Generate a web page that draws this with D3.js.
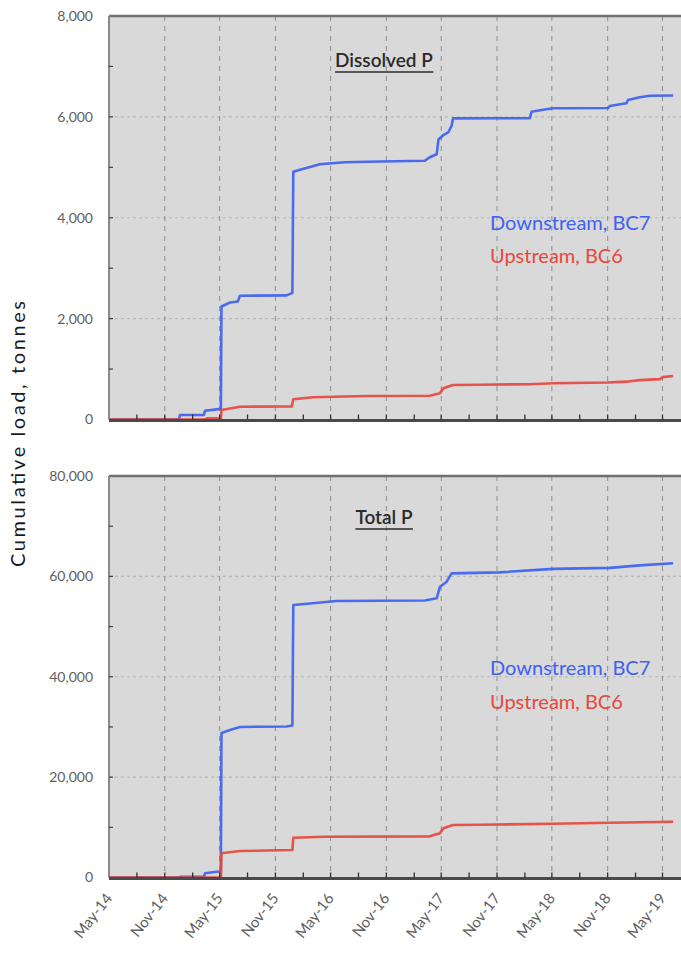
<!DOCTYPE html>
<html>
<head>
<meta charset="utf-8">
<script src="https://cdn.jsdelivr.net/npm/d3@7/dist/d3.min.js"></script>
<style>
  html, body { margin: 0; padding: 0; background: #fff; }
  svg { display: block; }
  text { font-family: Lato, "Open Sans", sans-serif; }
</style>
</head>
<body>
<svg id="chart" width="681" height="953"></svg>
<script>
// Cumulative loads (tonnes), [date, value] pairs
const dissolvedBC7 = [
  ["2014-05-01", 0], ["2014-12-18", 0], ["2014-12-21", 90], ["2015-03-10", 90],
  ["2015-03-14", 175], ["2015-04-21", 200], ["2015-05-05", 210], ["2015-05-07", 2240],
  ["2015-06-04", 2320], ["2015-06-30", 2340], ["2015-07-07", 2455], ["2015-12-08", 2460],
  ["2015-12-27", 2510], ["2015-12-30", 4910], ["2016-01-21", 4950], ["2016-03-03", 5020],
  ["2016-03-26", 5060], ["2016-06-17", 5100], ["2016-08-28", 5110], ["2017-03-08", 5130],
  ["2017-03-24", 5200], ["2017-04-16", 5260], ["2017-04-22", 5550], ["2017-05-08", 5640],
  ["2017-05-25", 5700], ["2017-06-04", 5820], ["2017-06-09", 5970], ["2018-02-17", 5975],
  ["2018-02-23", 6100], ["2018-04-02", 6140], ["2018-05-05", 6170], ["2018-11-02", 6175],
  ["2018-11-08", 6215], ["2019-01-02", 6270], ["2019-01-07", 6335], ["2019-02-15", 6390],
  ["2019-03-20", 6420], ["2019-06-05", 6425]
];
const dissolvedBC6 = [
  ["2014-05-01", 0], ["2015-03-14", 0], ["2015-03-20", 25], ["2015-05-05", 25],
  ["2015-05-07", 188], ["2015-07-07", 254], ["2015-12-25", 258], ["2015-12-30", 400],
  ["2016-03-03", 440], ["2016-08-28", 466], ["2017-03-24", 470], ["2017-04-27", 519],
  ["2017-05-08", 618], ["2017-06-09", 684], ["2017-09-05", 690], ["2018-02-17", 700],
  ["2018-05-05", 720], ["2018-11-02", 735], ["2019-01-02", 750], ["2019-02-15", 780],
  ["2019-04-22", 800], ["2019-05-02", 840], ["2019-06-05", 862]
];
const totalBC7 = [
  ["2014-05-01", 0], ["2014-12-18", 0], ["2014-12-21", 160], ["2015-03-10", 160],
  ["2015-03-14", 840], ["2015-04-21", 1150], ["2015-05-05", 1200], ["2015-05-07", 28800],
  ["2015-06-04", 29400], ["2015-07-07", 30000], ["2015-12-08", 30100], ["2015-12-27", 30300],
  ["2015-12-30", 54300], ["2016-03-03", 54630], ["2016-05-20", 55090], ["2017-03-08", 55200],
  ["2017-04-16", 55630], ["2017-04-27", 57940], ["2017-05-19", 58940], ["2017-06-04", 60600],
  ["2017-11-10", 60800], ["2018-05-05", 61500], ["2018-11-08", 61700], ["2019-02-15", 62200],
  ["2019-06-05", 62600]
];
const totalBC6 = [
  ["2014-05-01", 0], ["2015-05-05", 0], ["2015-05-07", 4820], ["2015-07-07", 5280],
  ["2015-12-27", 5480], ["2015-12-30", 7930], ["2016-04-10", 8130], ["2017-03-24", 8200],
  ["2017-04-27", 8800], ["2017-05-08", 9800], ["2017-06-09", 10460], ["2017-09-05", 10500],
  ["2018-05-05", 10700], ["2018-11-08", 10900], ["2019-06-05", 11100]
];

const dissolvedTicks = [0, 2000, 4000, 6000, 8000];
const totalTicks = [0, 20000, 40000, 60000, 80000];
const panelTitles = ["Dissolved P", "Total P"];
const seriesNames = ["Downstream, BC7", "Upstream, BC6"];
const xStart = "2014-05-01", xEnd = "2019-07-01";

const parse = d3.timeParse("%Y-%m-%d");
const svg = d3.select("#chart");
const blue = "#3d62f0", red = "#e6483e";
const axisGrey = "#5e5e5e";

const x = d3.scaleTime().domain([parse(xStart), parse(xEnd)]).range([109, 681]);
// labels and grid every 6 months from May-14, small ticks every 3 months
const labelDates = d3.timeMonth.range(parse("2014-05-01"), parse("2019-06-01"), 6);
const tickDates = d3.timeMonth.range(parse("2014-05-01"), parse("2019-07-01"), 3);

const panels = [
  { top: 16, bottom: 419.5, max: 8000, ticks: dissolvedTicks, minor: 1000,
    title: panelTitles[0], titleY: 67, series: [dissolvedBC7, dissolvedBC6], legendY: [230, 263] },
  { top: 476, bottom: 877.5, max: 80000, ticks: totalTicks, minor: 10000,
    title: panelTitles[1], titleY: 524, series: [totalBC7, totalBC6], legendY: [675, 709] }
];

panels.forEach((p, pi) => {
  const y = d3.scaleLinear().domain([0, p.max]).range([p.bottom, p.top]);
  const g = svg.append("g");
  const [x0, x1] = x.range();

  g.append("rect").attr("x", x0).attr("y", p.top)
    .attr("width", x1 - x0 + 5).attr("height", p.bottom - p.top).attr("fill", "#d9d9d9");

  // horizontal dotted grid
  g.selectAll(".hg").data(p.ticks.filter(t => t > 0 && t < p.max)).join("line")
    .attr("x1", x0).attr("x2", x1 + 5).attr("y1", d => y(d)).attr("y2", d => y(d))
    .attr("stroke", "#b8b8b8").attr("stroke-width", 1.2).attr("stroke-dasharray", "3,3");

  // vertical dashed grid every 6 months
  g.selectAll(".vg").data(labelDates.slice(1)).join("line")
    .attr("x1", d => x(d)).attr("x2", d => x(d)).attr("y1", p.top).attr("y2", p.bottom)
    .attr("stroke", "#8e8e8e").attr("stroke-width", 1).attr("stroke-dasharray", "5,5");

  // frame: top and left
  g.append("line").attr("x1", x0).attr("x2", x1 + 5).attr("y1", p.top).attr("y2", p.top)
    .attr("stroke", "#707070").attr("stroke-width", 2.5);
  g.append("line").attr("x1", x0).attr("x2", x0).attr("y1", p.top).attr("y2", p.bottom)
    .attr("stroke", "#8a8a8a").attr("stroke-width", 2);

  // left minor ticks (inward)
  g.selectAll(".yt").data(d3.range(p.minor, p.max, p.minor)).join("line")
    .attr("x1", x0).attr("x2", x0 + 4).attr("y1", d => y(d)).attr("y2", d => y(d))
    .attr("stroke", "#404040").attr("stroke-width", 1.2);

  // y tick labels
  const fmt = d3.format(",");
  g.selectAll(".yl").data(p.ticks).join("text")
    .attr("x", 93).attr("y", d => y(d)).attr("dy", "0.35em")
    .attr("text-anchor", "end").attr("font-size", 14).attr("fill", axisGrey)
    .text(d => fmt(d));

  // series lines
  const line = d3.line().x(d => x(parse(d[0]))).y(d => y(d[1]));
  [blue, red].forEach((c, i) => {
    g.append("path").attr("d", line(p.series[i])).attr("fill", "none")
      .attr("stroke", c).attr("stroke-width", 2.6).attr("stroke-linejoin", "round")
      .attr("opacity", 0.92);
  });

  // bottom axis line and upward ticks
  g.append("line").attr("x1", x0).attr("x2", x1 + 5).attr("y1", p.bottom + 1).attr("y2", p.bottom + 1)
    .attr("stroke", "#4a4a4a").attr("stroke-width", 3);
  g.selectAll(".xt").data(tickDates.slice(1)).join("line")
    .attr("x1", d => x(d)).attr("x2", d => x(d)).attr("y1", p.bottom).attr("y2", p.bottom - 5)
    .attr("stroke", "#303030").attr("stroke-width", 1.3);

  // panel title, underlined
  const t = g.append("text").attr("x", 384).attr("y", p.titleY)
    .attr("text-anchor", "middle").attr("font-size", 19).attr("font-weight", 600)
    .attr("fill", "#2a2a2a").text(p.title);
  const bb = t.node().getBBox();
  g.append("line").attr("x1", bb.x).attr("x2", bb.x + bb.width)
    .attr("y1", p.titleY + 5).attr("y2", p.titleY + 5)
    .attr("stroke", "#2a2a2a").attr("stroke-width", 1.5);

  // series labels
  [blue, red].forEach((c, i) => {
    g.append("text").attr("x", 490).attr("y", p.legendY[i])
      .attr("font-size", 20).attr("fill", c).text(seriesNames[i]);
  });
});

// x-axis labels below the lower panel
const fmtX = d3.timeFormat("%b-%y");
svg.append("g").selectAll("text").data(labelDates).join("text")
  .attr("transform", d => `translate(${x(d) + 4},${877.5 + 21}) rotate(-52)`)
  .attr("text-anchor", "end").attr("font-size", 15).attr("fill", axisGrey)
  .text(d => fmtX(d));

// y-axis title
svg.append("text")
  .attr("transform", "translate(25,434) rotate(-90)")
  .attr("text-anchor", "middle").attr("font-size", 20).attr("fill", "#1a1a1a")
  .attr("textLength", 266).attr("lengthAdjust", "spacing")
  .text("Cumulative load, tonnes");
</script>
</body>
</html>
